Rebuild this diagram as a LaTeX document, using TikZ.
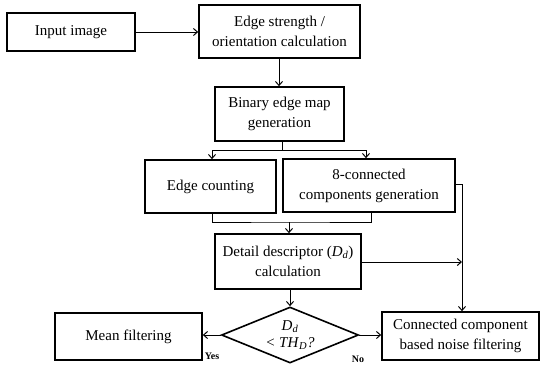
\documentclass[tikz,border=0pt]{standalone}
\usepackage{amsmath}
\usepackage{fontspec}
\setmainfont{Liberation Serif}
\usetikzlibrary{shapes.geometric,arrows.meta}
\tikzset{
  box/.style={draw, line width=1.6pt, align=center, inner sep=0pt,
    font=\fontsize{15}{20}\selectfont},
  arr/.style={-{Straight Barb[length=4pt,width=7pt]}, line width=1pt},
  lnk/.style={line width=1pt},
  yesno/.style={font=\fontsize{10}{12}\selectfont\bfseries, inner sep=0pt}
}
\begin{document}
\begin{tikzpicture}[x=1pt, y=-1pt]
\useasboundingbox (0,0) rectangle (541,365);
\node[box, minimum width=128pt, minimum height=38pt] (input) at (71,32) {Input image};
\node[box, minimum width=161pt, minimum height=53pt] (strength) at (279.5,31.5) {Edge strength /\\orientation calculation};
\node[box, minimum width=129pt, minimum height=54pt] (binary) at (279.5,114) {Binary edge map\\generation};
\node[box, minimum width=131pt, minimum height=53pt] (counting) at (210.5,186.5) {Edge counting};
\node[box, minimum width=172pt, minimum height=53pt] (conn) at (369,185.5) {8-connected\\components generation};
\node[box, minimum width=146pt, minimum height=55pt] (detail) at (288,261.5) {Detail descriptor (\textit{D}\textsubscript{\textit{d}})\\calculation};
\node[box, diamond, aspect=2.45, minimum width=137pt, minimum height=56pt,
  font=\fontsize{15}{17}\selectfont] (decide) at (290,335) {\textit{D}\textsubscript{\textit{d}}\\\textit{{<} TH}\textsubscript{\textit{D}}\textit{?}};
\node[box, minimum width=147pt, minimum height=47pt] (mean) at (128.5,336.5) {Mean filtering};
\node[box, minimum width=157pt, minimum height=48pt] (noise) at (460.5,336) {Connected component\\based noise filtering};
\coordinate (split) at (282,150);
\coordinate (merge) at (289,222);
\coordinate (side) at (462,184);
\coordinate (join) at (462,262);
\draw[arr] (input.east |- 0,32) -- (strength.west |- 0,32);
\draw[arr] (strength.south -| 279,0) -- (binary.north -| 279,0);
\draw[lnk] (binary.south -| split) -- (split);
\draw[arr] (split) -| (212,0 |- counting.north);
\draw[arr] (split) -| (366,0 |- conn.north);
\draw[lnk] (212,0 |- counting.south) |- (merge) -| (371,0 |- conn.south);
\draw[arr] (merge) -- (merge |- detail.north);
\draw[lnk] (conn.east |- side) -- (side);
\draw[arr] (side) -- (side |- noise.north);
\draw[arr] (detail.east |- join) -- (join);
\draw[arr] (detail.south -| decide) -- (decide.north);
\draw[arr] (decide.west) -- (mean.east |- decide.west);
\draw[arr] (decide.east) -- (noise.west |- decide.east);
\node[yesno] (yes) at (212,356) {Yes};
\node[yesno] (no) at (358,359) {No};
\end{tikzpicture}
\end{document}
